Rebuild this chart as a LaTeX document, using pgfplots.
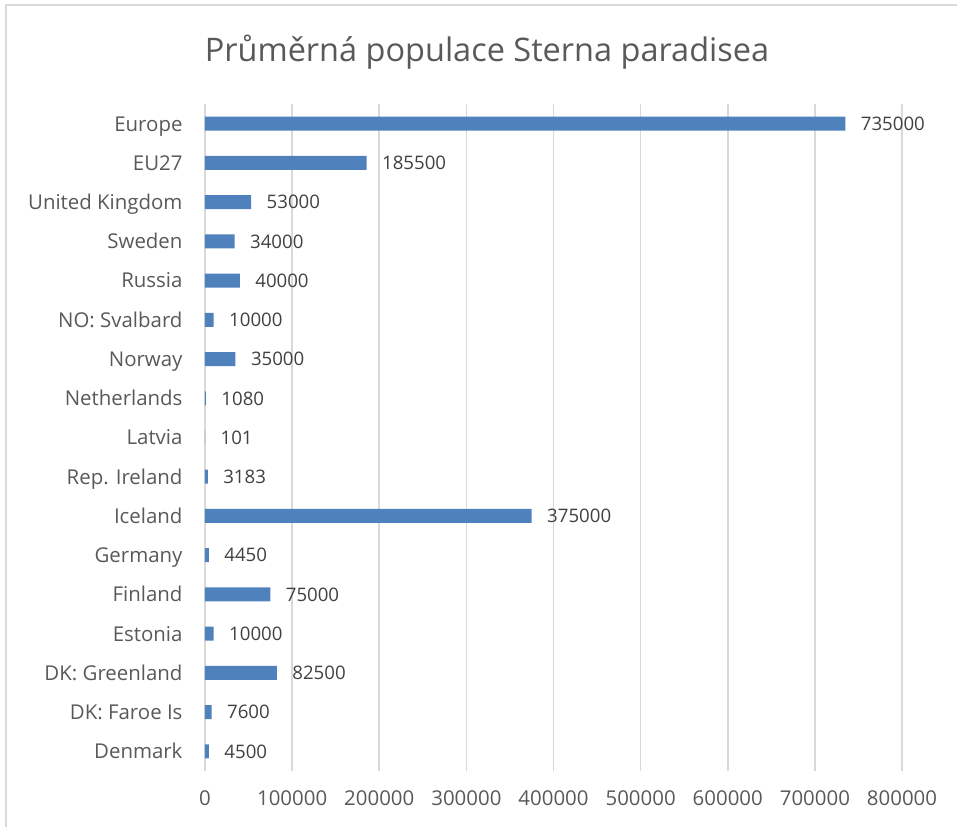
\documentclass[border=0pt]{standalone}
\usepackage{fontspec}
\setmainfont{Open Sans}
\usepackage{pgfplots}
\pgfplotsset{compat=1.18}
\definecolor{barblue}{HTML}{4F81BD}
\definecolor{tickgray}{HTML}{595959}
\definecolor{labgray}{HTML}{404040}
\definecolor{gridgray}{HTML}{D9D9D9}
\begin{document}
\begin{tikzpicture}
\begin{axis}[
  name=ax,
  at={(0bp,0bp)}, anchor=south west,
  width=697bp, height=667bp, scale only axis,
  xbar, bar width=14bp,
  xmin=0, xmax=800000,
  ymin=-0.5, ymax=16.5,
  xtick={0,100000,...,800000},
  scaled x ticks=false,
  /pgf/number format/assume math mode=true,
  xticklabel={\pgfmathprintnumber[fixed,1000 sep={}]{\tick}},
  ytick={0,...,16},
  yticklabels={Denmark,DK: Faroe Is,DK: Greenland,Estonia,Finland,Germany,Iceland,Rep. Ireland,Latvia,Netherlands,Norway,NO: Svalbard,Russia,Sweden,United Kingdom,EU27,Europe},
  xmajorgrids, major grid style={gridgray,line width=1.5bp},
  axis line style={draw=none},
  major tick length=0pt,
  xticklabel style={text=tickgray,font=\fontsize{20.5}{24}\selectfont,yshift=-16bp},
  yticklabel style={text=tickgray,font=\fontsize{20.5}{24}\selectfont,xshift=-19bp,text height=14.8bp,text depth=0pt},
  nodes near coords,
  nodes near coords style={text=labgray,font=\fontsize{18.7}{22}\selectfont,anchor=west,xshift=12bp,text height=13.5bp,text depth=0pt,
    /pgf/number format/fixed,/pgf/number format/1000 sep={},/pgf/number format/assume math mode=true},
  point meta=x,
  clip=false,
]
\addplot[fill=barblue,draw=none] coordinates {
(4500,0) (7600,1) (82500,2) (10000,3) (75000,4) (4450,5) (375000,6) (3183,7) (101,8) (1080,9) (35000,10) (10000,11) (40000,12) (34000,13) (53000,14) (185500,15) (735000,16)};
\end{axis}
\path[use as bounding box] (-205bp,-56bp) rectangle (752bp,771bp);
\draw[gridgray,line width=1.5bp] (-199bp,-56bp) -- (-199bp,766bp) -- (752bp,766bp);
\node[text=tickgray,font=\fontsize{32.6}{38}\selectfont] at (282bp,719bp) {Průměrná populace Sterna paradisea};
\end{tikzpicture}
\end{document}
